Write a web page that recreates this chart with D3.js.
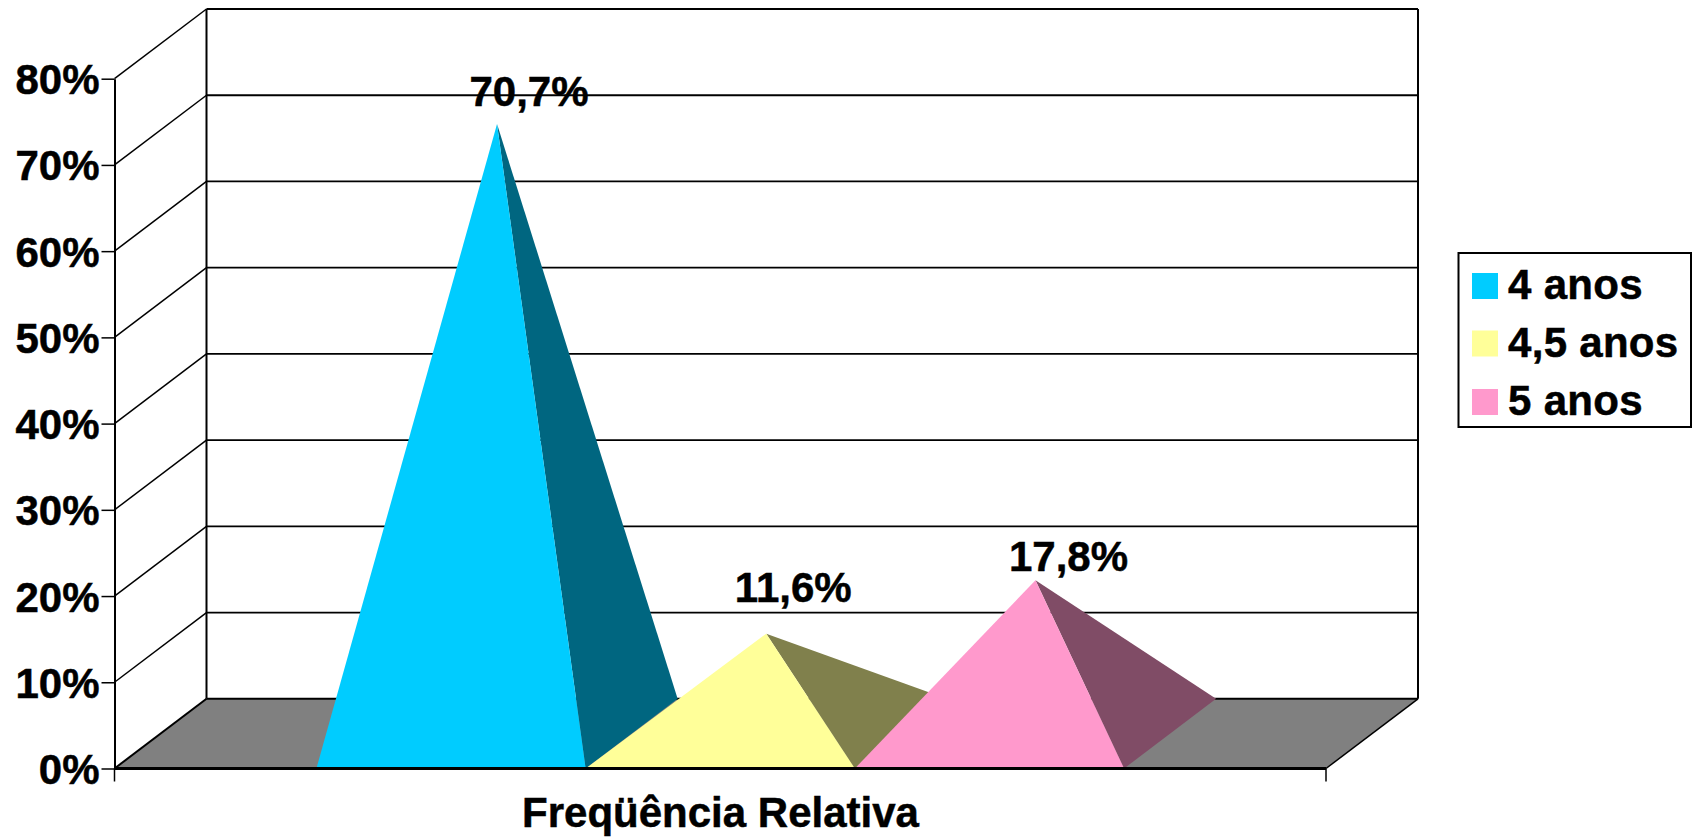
<!DOCTYPE html>
<html><head><meta charset="utf-8">
<script src="https://cdn.jsdelivr.net/npm/d3@7"></script>
<style>html,body{margin:0;background:#fff;overflow:hidden}svg{display:block}text{font-family:"Liberation Sans",Arial,sans-serif;font-weight:700;fill:#000;stroke:#000;stroke-width:.5px}</style>
</head><body><svg id="c" width="1698" height="837"></svg>
<script>
const categories=["4 anos","4,5 anos","5 anos"];
const values=[70.7,11.6,17.8];
const valueLabels=["70,7%","11,6%","17,8%"];
const yTicks=[0,10,20,30,40,50,60,70,80];
const axisTitle="Freqüência Relativa";
const frontColors=["#00CCFF","#FFFF99","#FF99CC"];
const sideColors=["#006680","#80804C","#804C66"];

const svg=d3.select("#c");
const L=114.5,R=1326,Y0=768.5,Y80=78.7,DX=92,DY=69.7,FS=42;
const y=d3.scaleLinear().domain([0,80]).range([Y0,Y80]);
const x=d3.scaleBand().domain(categories).range([L,R]).paddingInner(0).paddingOuter(0.75);
const labelOffset=[{dx:32,dy:-18},{dx:27,dy:-32},{dx:33,dy:-9}];
const line=(a,b,c,d,w)=>svg.append("line").attr("x1",a).attr("y1",b).attr("x2",c).attr("y2",d).attr("stroke","#000").attr("stroke-width",w);

// floor
svg.append("path").attr("d",`M${L},${Y0}L${L+DX},${Y0-DY}L${R+DX},${Y0-DY}L${R},${Y0}Z`).attr("fill","#808080");
// walls & gridlines
yTicks.forEach(t=>{
  const yy=y(t);
  if(t>0) line(L,yy,L+DX,yy-DY,1.5);
  line(L+DX,yy-DY,R+DX,yy-DY,t==80||t==0?2:1.8);
});
line(L+DX,y(80)-DY,L+DX,Y0-DY,2);
line(R+DX,y(80)-DY,R+DX,Y0-DY,2);
line(L,Y0,L+DX,Y0-DY,2);
line(R,Y0,R+DX,Y0-DY,1.5);

// pyramids
const g=svg.append("g");
categories.forEach((c,i)=>{
  const a=x(c),b=a+x.bandwidth();
  const ax=(a+b+DX)/2, ay=y(values[i])-DY/2;
  g.append("path").attr("d",`M${b},${Y0}L${b+DX},${Y0-DY}L${ax},${ay}Z`).attr("fill",sideColors[i]);
  g.append("path").attr("d",`M${a},${Y0}L${b},${Y0}L${ax},${ay}Z`).attr("fill",frontColors[i]);
});

// y axis
const ax=svg.append("g").attr("transform",`translate(${L},0)`)
 .call(d3.axisLeft(y).tickValues(yTicks).tickFormat(d=>d+"%").tickSize(13).tickSizeOuter(0).tickPadding(2));
ax.select(".domain").attr("stroke","#000").attr("stroke-width",2);
ax.selectAll(".tick line").attr("stroke","#000").attr("stroke-width",1.5);
ax.selectAll("text").attr("font-size",FS).attr("font-family",'"Liberation Sans",Arial,sans-serif').attr("font-weight",700).attr("fill","#000").attr("dy",null).attr("y",15);

// x axis
line(L,Y0,R,Y0,3);
line(L,Y0,L,Y0+13,1.5);
line(R,Y0,R,Y0+13,1.5);
svg.append("text").attr("x",720.5).attr("y",827).attr("text-anchor","middle").attr("font-size",FS).text(axisTitle);

// value labels
categories.forEach((c,i)=>{
  const ax0=x(c)+x.bandwidth()/2+DX/2, ay=y(values[i])-DY/2;
  svg.append("text").attr("x",ax0+labelOffset[i].dx).attr("y",ay+labelOffset[i].dy).attr("text-anchor","middle").attr("font-size",FS).text(valueLabels[i]);
});

// legend
const lg=svg.append("g");
lg.append("rect").attr("x",1458.5).attr("y",253).attr("width",232.5).attr("height",174).attr("fill","#fff").attr("stroke","#000").attr("stroke-width",2);
const rowY=[273,330.5,389];
categories.forEach((c,i)=>{
  lg.append("rect").attr("x",1472).attr("y",rowY[i]).attr("width",26).attr("height",26).attr("fill",frontColors[i]);
  lg.append("text").attr("x",1508).attr("y",rowY[i]+26).attr("font-size",FS).attr("letter-spacing",.3).text(c);
});
</script></body></html>
